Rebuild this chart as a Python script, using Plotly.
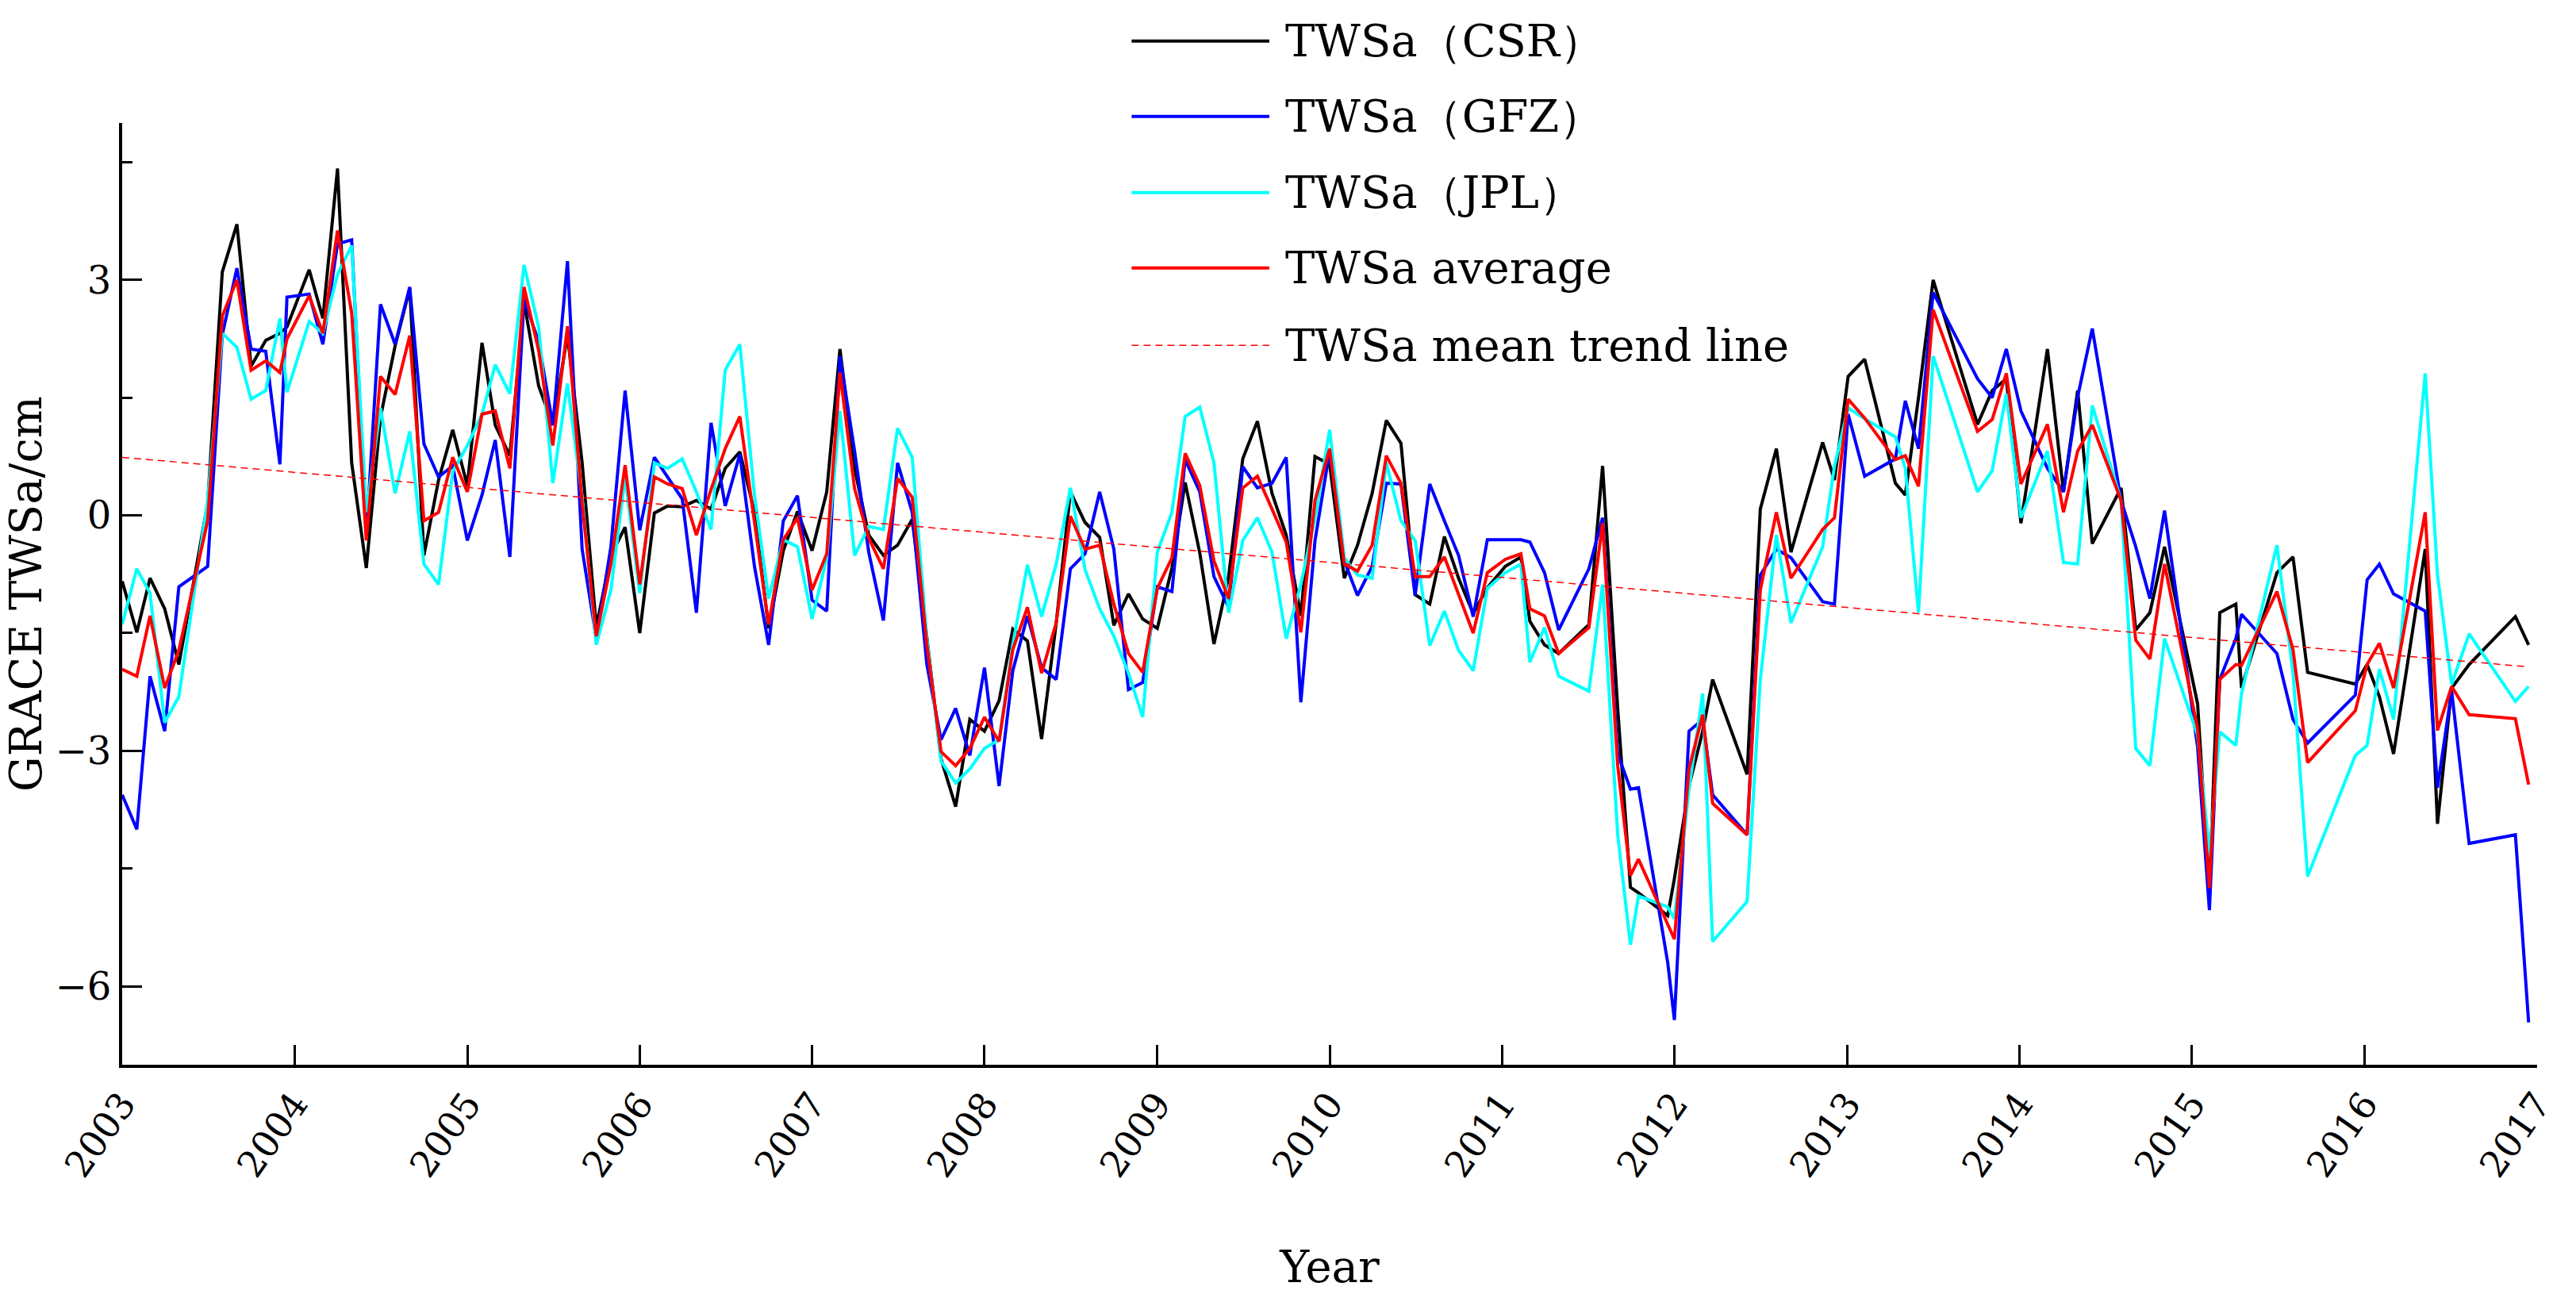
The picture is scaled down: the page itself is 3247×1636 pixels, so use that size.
import plotly.graph_objects as go

# sample dates
dates = (
    ["2003-01-01", "2003-02-01", "2003-03-01", "2003-04-01", "2003-05-01", "2003-07-01",
     "2003-08-01", "2003-09-01", "2003-10-01", "2003-11-01", "2003-12-01", "2003-12-16"]
    + ["2004-02-01", "2004-03-01", "2004-04-01", "2004-05-01", "2004-06-01", "2004-07-01",
       "2004-08-01", "2004-09-01", "2004-10-01", "2004-11-01", "2004-12-01"]
    + ["2005-01", "2005-02", "2005-03", "2005-04", "2005-05", "2005-06",
       "2005-07", "2005-08", "2005-09", "2005-10", "2005-11", "2005-12"]
    + ["2006-01", "2006-02", "2006-03", "2006-04", "2006-05", "2006-06",
       "2006-07", "2006-08", "2006-09", "2006-10", "2006-11", "2006-12"]
    + ["2007-01", "2007-02", "2007-03", "2007-04", "2007-05", "2007-06",
       "2007-07", "2007-08", "2007-09", "2007-10", "2007-11", "2007-12"]
    + ["2008-01", "2008-02", "2008-03", "2008-04", "2008-05", "2008-06",
       "2008-07", "2008-08", "2008-09", "2008-10", "2008-11", "2008-12"]
    + ["2009-01", "2009-02", "2009-03", "2009-04", "2009-05", "2009-06",
       "2009-07", "2009-08", "2009-09", "2009-10", "2009-11", "2009-12"]
    + ["2010-01", "2010-02", "2010-03", "2010-04", "2010-05", "2010-06",
       "2010-07", "2010-08", "2010-09", "2010-10", "2010-11", "2010-12"]
    + ["2011-01-08", "2011-02-10", "2011-03-01", "2011-04-01", "2011-05-01", "2011-07-04",
       "2011-08-02", "2011-09-03", "2011-09-30", "2011-10-17", "2011-12-18"]
    + ["2012-01-01", "2012-02-01", "2012-03-01", "2012-03-22", "2012-06-03", "2012-07-01",
       "2012-08-04", "2012-09-04", "2012-11-10", "2012-12-05"]
    + ["2013-01-03", "2013-02-07", "2013-04-13", "2013-05-04", "2013-06-01", "2013-07-02",
       "2013-10-04", "2013-11-04", "2013-12-04"]
    + ["2014-01-04", "2014-03-01", "2014-04-04", "2014-05-04", "2014-06-04", "2014-08-04",
       "2014-09-04", "2014-10-04", "2014-11-04"]
    + ["2015-01-13", "2015-02-07", "2015-03-01", "2015-04-04", "2015-04-16", "2015-06-30",
       "2015-08-03", "2015-09-03", "2015-12-13"]
    + ["2016-01-07", "2016-02-02", "2016-03-03", "2016-05-09", "2016-06-04", "2016-07-04",
       "2016-08-10", "2016-11-16", "2016-12-14"]
)

csr = [
    -0.84, -1.49, -0.80, -1.19, -1.90, 0.15, 3.10, 3.71, 1.90, 2.23, 2.32, 2.40,
    3.13, 2.51, 4.42, 0.67, -0.67, 1.25, 2.16, 2.89, -0.51, 0.45, 1.09,
    0.38, 2.20, 1.15, 0.76, 2.72, 1.65, 1.15, 2.30, 0.67, -1.42, -0.51, -0.15,
    -1.50, 0.03, 0.12, 0.11, 0.19, 0.08, 0.60, 0.81, 0.04, -1.44, -0.45, 0.05,
    -0.45, 0.30, 2.12, 0.60, -0.25, -0.51, -0.38, -0.05, -1.55, -3.10, -3.71, -2.60,
    -2.75, -2.36, -1.45, -1.60, -2.85, -1.37, 0.30, -0.09, -0.28, -1.40, -1.00, -1.32,
    -1.44, -0.67, 0.42, -0.48, -1.64, -0.78, 0.72, 1.20, 0.28, -0.25, -1.28, 0.75,
    0.65, -0.80, -0.38, 0.28, 1.21, 0.92, -1.01, -1.13, -0.27, -0.80, -1.25, -0.92,
    -0.65, -0.53, -1.35, -1.65, -1.76, -1.39, 0.63, -2.46, -4.74, -4.81, -5.10,
    -4.63, -3.45, -2.75, -2.09, -3.30, 0.08, 0.85, -0.47, 0.93, 0.45,
    1.77, 1.99, 0.41, 0.26, 1.50, 3.00, 1.16, 1.59, 1.74,
    -0.10, 2.12, 0.30, 1.59, -0.36, 0.35, -1.46, -1.24, -0.40,
    -2.40, -4.80, -1.24, -1.13, -2.20, -0.73, -0.53, -2.00, -2.15,
    -1.90, -2.31, -3.04, -0.43, -3.93, -2.20, -1.90, -1.29, -1.65,
]

gfz = [
    -3.56, -4.00, -2.05, -2.75, -0.91, -0.65, 2.30, 3.15, 2.12, 2.09, 0.65, 2.78,
    2.82, 2.18, 3.46, 3.51, -0.25, 2.69, 2.18, 2.91, 0.91, 0.49, 0.63,
    -0.32, 0.26, 0.96, -0.53, 2.76, 2.21, 1.15, 3.24, -0.43, -1.57, -0.40, 1.59,
    -0.19, 0.74, 0.49, 0.21, -1.24, 1.18, 0.12, 0.78, -0.65, -1.65, -0.07, 0.25,
    -1.08, -1.22, 2.03, 0.82, -0.47, -1.34, 0.67, 0.04, -1.90, -2.86, -2.46, -3.06,
    -1.94, -3.45, -1.98, -1.28, -1.94, -2.09, -0.68, -0.49, 0.30, -0.43, -2.22, -2.13,
    -0.91, -0.97, 0.71, 0.30, -0.78, -1.17, 0.62, 0.35, 0.41, 0.74, -2.38, -0.32,
    0.82, -0.58, -1.02, -0.65, 0.41, 0.40, -1.02, 0.40, -0.07, -0.51, -1.29, -0.31,
    -0.31, -0.31, -0.34, -0.73, -1.46, -0.68, -0.03, -3.04, -3.49, -3.47, -5.70,
    -6.43, -2.75, -2.60, -3.56, -4.07, -0.76, -0.43, -0.54, -1.10, -1.13,
    1.29, 0.50, 0.72, 1.46, 0.85, 2.84, 1.74, 1.50, 2.12,
    1.33, 0.60, 0.30, 1.51, 2.38, 0.19, -0.40, -1.06, 0.06,
    -2.95, -5.03, -2.09, -1.57, -1.26, -1.76, -2.60, -2.90, -2.29,
    -0.82, -0.62, -1.00, -1.22, -3.47, -2.24, -4.18, -4.07, -6.46,
]

jpl = [
    -1.39, -0.68, -0.99, -2.64, -2.31, 0.19, 2.32, 2.14, 1.48, 1.59, 2.51, 1.57,
    2.47, 2.32, 3.07, 3.44, 0.04, 1.37, 0.28, 1.07, -0.62, -0.88, 0.56,
    0.89, 1.29, 1.92, 1.55, 3.19, 2.40, 0.41, 1.68, 0.23, -1.65, -0.95, 0.49,
    -0.99, 0.67, 0.60, 0.72, 0.30, -0.18, 1.85, 2.18, 0.26, -1.06, -0.31, -0.40,
    -1.32, -0.54, 1.33, -0.51, -0.14, -0.18, 1.11, 0.74, -1.57, -3.13, -3.41, -3.23,
    -2.97, -2.86, -1.65, -0.63, -1.29, -0.62, 0.35, -0.69, -1.19, -1.54, -2.01, -2.57,
    -0.47, 0.04, 1.26, 1.38, 0.67, -1.24, -0.32, -0.03, -0.47, -1.57, -0.88, -0.03,
    1.09, -0.54, -0.76, -0.80, 0.67, -0.07, -0.32, -1.66, -1.22, -1.72, -1.98, -0.93,
    -0.73, -0.62, -1.87, -1.43, -2.05, -2.24, -0.88, -4.07, -5.47, -4.85, -4.99,
    -5.14, -3.49, -2.27, -5.43, -4.92, -2.09, -0.25, -1.37, -0.40, 0.63,
    1.37, 1.23, 1.00, 0.60, -1.24, 2.03, 0.30, 0.57, 1.55,
    -0.03, 0.82, -0.60, -0.62, 1.40, 0.19, -2.97, -3.19, -1.57,
    -2.80, -4.29, -2.76, -2.93, -2.27, -0.38, -2.00, -4.60, -3.06,
    -2.93, -1.96, -2.60, 1.81, -0.76, -2.15, -1.51, -2.37, -2.18,
]

avg = [
    -1.96, -2.05, -1.28, -2.20, -1.72, -0.07, 2.54, 3.00, 1.85, 1.97, 1.82, 2.25,
    2.80, 2.32, 3.63, 2.58, -0.32, 1.77, 1.54, 2.29, -0.07, 0.04, 0.74,
    0.30, 1.29, 1.33, 0.60, 2.91, 2.10, 0.89, 2.41, 0.16, -1.54, -0.62, 0.64,
    -0.88, 0.49, 0.40, 0.34, -0.25, 0.33, 0.85, 1.26, -0.12, -1.39, -0.31, -0.03,
    -0.95, -0.49, 1.82, 0.34, -0.29, -0.68, 0.47, 0.23, -1.65, -3.01, -3.19, -2.97,
    -2.57, -2.88, -1.71, -1.17, -2.01, -1.37, -0.01, -0.43, -0.38, -1.13, -1.76, -2.00,
    -0.93, -0.54, 0.79, 0.38, -0.58, -1.06, 0.35, 0.50, 0.08, -0.34, -1.49, 0.19,
    0.85, -0.62, -0.71, -0.38, 0.76, 0.41, -0.78, -0.78, -0.53, -1.02, -1.50, -0.73,
    -0.56, -0.49, -1.19, -1.28, -1.76, -1.43, -0.10, -3.19, -4.59, -4.38, -5.22,
    -5.40, -3.23, -2.54, -3.67, -4.07, -0.95, 0.04, -0.80, -0.18, -0.03,
    1.48, 1.24, 0.71, 0.76, 0.37, 2.62, 1.07, 1.22, 1.81,
    0.40, 1.16, 0.04, 0.82, 1.15, 0.19, -1.59, -1.83, -0.62,
    -2.72, -4.75, -2.09, -1.90, -1.91, -0.97, -1.71, -3.15, -2.49,
    -1.90, -1.63, -2.20, 0.04, -2.74, -2.18, -2.54, -2.59, -3.43,
]

# mean trend line end points
trend_dates = ["2003-01-01", "2016-12-14"]
trend_vals = [0.74, -1.93]

names = ["TWSa（CSR）", "TWSa（GFZ）", "TWSa（JPL）", "TWSa average", "TWSa mean trend line"]
colors = ["#000000", "#0000ff", "#00ffff", "#ff0000", "#ff0000"]

FONT = "DejaVu Serif"

fig = go.Figure()
for name, vals, col in zip(names[:4], [csr, gfz, jpl, avg], colors[:4]):
    fig.add_trace(go.Scatter(x=dates, y=vals, mode="lines", name=name,
                             line=dict(color=col, width=4), showlegend=False))
fig.add_trace(go.Scatter(x=trend_dates, y=trend_vals, mode="lines", name=names[4],
                         line=dict(color=colors[4], width=1.5, dash="9px,6px"),
                         showlegend=False))

# legend drawn by hand so the line samples are long like the original
leg_y = [1.087, 1.007, 0.926, 0.846, 0.764]
shapes = []
annots = []
for i, name in enumerate(names):
    shapes.append(dict(type="line", xref="paper", yref="paper",
                       x0=0.418, x1=0.475, y0=leg_y[i], y1=leg_y[i],
                       line=dict(color=colors[i], width=4 if i < 4 else 1.5,
                                 dash="solid" if i < 4 else "9px,6px")))
    annots.append(dict(x=0.481, y=leg_y[i], xref="paper", yref="paper",
                       text=name, showarrow=False, xanchor="left", yanchor="middle",
                       font=dict(family=FONT, size=56, color="black")))

fig.update_layout(
    width=3247,
    height=1636,
    margin=dict(l=154, r=49, t=155, b=294),
    paper_bgcolor="white",
    plot_bgcolor="white",
    font=dict(family=FONT, color="black"),
    shapes=shapes,
    annotations=annots,
)

fig.update_xaxes(
    type="date",
    range=["2003-01-01", "2017-01-01"],
    tick0="2003-01-01",
    dtick="M12",
    tickformat="%Y",
    tickangle=-55,
    ticks="inside",
    ticklen=25,
    tickwidth=3,
    tickcolor="black",
    showline=True,
    linewidth=4,
    linecolor="black",
    showgrid=False,
    zeroline=False,
    tickfont=dict(family=FONT, size=46),
    title=dict(text="Year", font=dict(family=FONT, size=56), standoff=85),
)

fig.update_yaxes(
    range=[-7, 5],
    tick0=0,
    dtick=3,
    ticks="inside",
    ticklen=25,
    tickwidth=3,
    tickcolor="black",
    minor=dict(dtick=1.5, tick0=0, ticks="inside", ticklen=13, tickwidth=3, tickcolor="black"),
    showline=True,
    linewidth=4,
    linecolor="black",
    showgrid=False,
    zeroline=False,
    tickfont=dict(family=FONT, size=48),
    title=dict(text="GRACE TWSa/cm", font=dict(family=FONT, size=56)),
)

fig.write_html("out.html", config={"displayModeBar": False},
               post_script="document.body.style.margin='0';")
